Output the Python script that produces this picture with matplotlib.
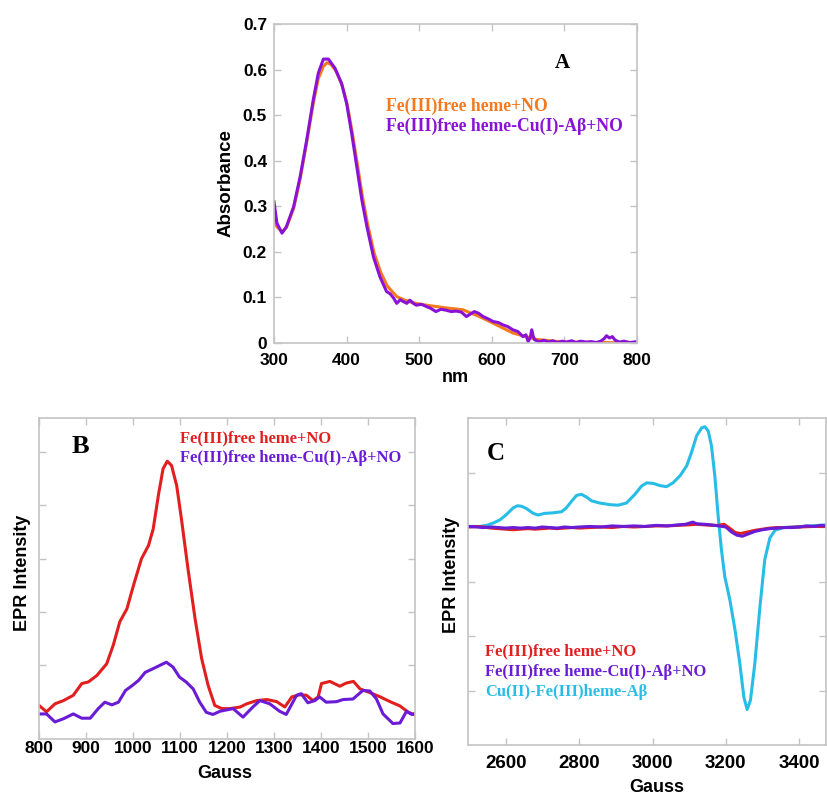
import matplotlib
matplotlib.use("Agg")
import matplotlib.pyplot as plt

# ---------------- Panel A data (UV-vis) ----------------
a_orange_nm = [300, 304, 311, 317, 327, 336, 345, 354, 361, 368, 373, 378, 385, 394, 401, 408,
               415, 422, 429, 438, 447, 456, 469, 480, 492, 510, 537, 560, 583, 600, 629, 661,
               698, 750, 800]
a_orange_abs = [0.27, 0.255, 0.244, 0.253, 0.295, 0.36, 0.44, 0.525, 0.58, 0.607, 0.615,
                0.612, 0.598, 0.565, 0.522, 0.46, 0.39, 0.32, 0.26, 0.197, 0.155, 0.125, 0.102,
                0.094, 0.088, 0.083, 0.077, 0.073, 0.058, 0.045, 0.022, 0.008, 0.002, 0.001, 0.0]

a_purple_nm = [300, 304, 311, 317, 327, 336, 345, 354, 361, 368, 375, 384, 393, 400, 407, 414,
               421, 428, 437, 446, 455, 460, 465, 469, 474, 478, 483, 487, 492, 496, 503, 510,
               516, 523, 530, 537, 544, 551, 558, 565, 571, 576, 582, 588, 595, 602, 609, 615,
               622, 629, 636, 643, 647, 650, 653, 655, 657, 659, 663, 666, 672, 678, 684, 690,
               697, 703, 710, 716, 722, 730, 737, 744, 750, 755, 758, 762, 766, 770, 776, 782,
               790, 800]
a_purple_abs = [0.31, 0.263, 0.241, 0.255, 0.299, 0.365, 0.445, 0.533, 0.592, 0.623, 0.623,
                0.603, 0.570, 0.526, 0.46, 0.387, 0.314, 0.255, 0.189, 0.145, 0.113, 0.108,
                0.098, 0.087, 0.095, 0.091, 0.087, 0.094, 0.087, 0.083, 0.085, 0.080, 0.076,
                0.069, 0.074, 0.072, 0.069, 0.070, 0.068, 0.058, 0.064, 0.069, 0.065, 0.058,
                0.053, 0.047, 0.045, 0.040, 0.036, 0.029, 0.025, 0.014, 0.018, 0.003, 0.012,
                0.029, 0.015, 0.007, 0.004, 0.003, 0.006, 0.002, 0.005, 0.001, 0.004, 0.002,
                0.005, 0.001, 0.004, 0.002, 0.003, 0.001, 0.004, 0.010, 0.016, 0.011, 0.014,
                0.006, 0.002, 0.004, 0.001, 0.003]

# ---------------- Panel B data (EPR, low field) ----------------
b_red_g = [800, 816, 834, 852, 873, 891, 905, 923, 944, 958, 972, 987, 1001, 1018, 1033, 1043,
           1054, 1064, 1073, 1082, 1093, 1103, 1117, 1132, 1146, 1160, 1174, 1189, 1206, 1228,
           1242, 1263, 1285, 1306, 1323, 1338, 1355, 1369, 1383, 1394, 1401, 1419, 1440, 1454,
           1469, 1483, 1504, 1526, 1547, 1568, 1586, 1600]
b_red_i = [-0.75, -0.87, -0.72, -0.66, -0.56, -0.34, -0.31, -0.19, 0.03, 0.38, 0.82, 1.06,
           1.50, 2.00, 2.25, 2.56, 3.19, 3.69, 3.83, 3.75, 3.37, 2.75, 1.81, 0.88, 0.13, -0.38,
           -0.75, -0.81, -0.81, -0.78, -0.72, -0.66, -0.64, -0.68, -0.78, -0.59, -0.55, -0.56,
           -0.66, -0.59, -0.34, -0.30, -0.39, -0.33, -0.30, -0.44, -0.51, -0.59, -0.68, -0.76,
           -0.88, -0.93]

b_purple_g = [800, 816, 834, 852, 873, 891, 909, 926, 940, 955, 969, 984, 998, 1012, 1026,
              1043, 1057, 1071, 1085, 1099, 1113, 1128, 1142, 1156, 1170, 1185, 1213, 1234,
              1255, 1270, 1291, 1312, 1326, 1348, 1358, 1372, 1387, 1397, 1411, 1433, 1447,
              1468, 1489, 1504, 1518, 1532, 1553, 1568, 1582, 1593, 1600]
b_purple_i = [-0.91, -0.91, -1.06, -1.00, -0.91, -0.99, -0.99, -0.81, -0.69, -0.74, -0.69,
              -0.47, -0.38, -0.28, -0.13, -0.06, 0.00, 0.06, -0.03, -0.22, -0.31, -0.44, -0.69,
              -0.88, -0.92, -0.86, -0.81, -0.97, -0.78, -0.66, -0.72, -0.86, -0.92, -0.56,
              -0.53, -0.70, -0.66, -0.59, -0.69, -0.68, -0.64, -0.63, -0.47, -0.48, -0.63,
              -0.91, -1.09, -1.08, -0.86, -0.92, -0.90]

# ---------------- Panel C data (EPR, g~2 region) ----------------
c_cyan_g = [2500, 2529, 2547, 2565, 2584, 2602, 2620, 2632, 2643, 2656, 2675, 2688, 2706, 2729,
            2752, 2765, 2779, 2793, 2806, 2820, 2834, 2856, 2884, 2906, 2929, 2952, 2970, 2984,
            3002, 3020, 3038, 3056, 3075, 3093, 3106, 3120, 3134, 3143, 3152, 3161, 3170, 3179,
            3188, 3197, 3211, 3225, 3238, 3249, 3258, 3267, 3279, 3293, 3306, 3320, 3334, 3356,
            3411, 3473]
c_cyan_i = [0.01, 0.01, 0.03, 0.07, 0.13, 0.23, 0.35, 0.39, 0.38, 0.34, 0.25, 0.22, 0.25, 0.26,
            0.28, 0.35, 0.47, 0.58, 0.60, 0.55, 0.48, 0.44, 0.41, 0.40, 0.44, 0.60, 0.75, 0.81,
            0.80, 0.76, 0.74, 0.81, 0.94, 1.12, 1.36, 1.67, 1.82, 1.84, 1.76, 1.48, 0.93, 0.20,
            -0.42, -0.91, -1.34, -1.89, -2.50, -3.12, -3.35, -3.18, -2.50, -1.46, -0.60, -0.20,
            -0.06, -0.01, 0.01, 0.04]

c_red_g = [2500, 2520, 2540, 2560, 2580, 2600, 2620, 2640, 2660, 2680, 2700, 2720, 2740,
           2760, 2780, 2800, 2830, 2860, 2890, 2920, 2950, 2980, 3010, 3040, 3070, 3100,
           3120, 3140, 3160, 3180, 3195, 3210, 3225, 3240, 3260, 3280, 3300, 3320, 3340,
           3360, 3400, 3440, 3473]
c_red_i = [0.0, 0.01, 0.0, -0.02, -0.03, -0.04, -0.05, -0.04, -0.03, -0.04, -0.03, -0.02,
           -0.03, -0.02, -0.01, -0.02, -0.01, 0.0, -0.01, 0.01, 0.0, 0.01, 0.02, 0.02, 0.03,
           0.04, 0.05, 0.04, 0.03, 0.03, 0.05, -0.02, -0.10, -0.12, -0.09, -0.06, -0.04,
           -0.02, -0.01, -0.01, 0.0, 0.01, 0.01]

c_purple_g = [2500, 2520, 2540, 2560, 2580, 2600, 2620, 2640, 2660, 2680, 2700, 2720, 2740,
              2760, 2780, 2800, 2830, 2860, 2890, 2920, 2950, 2980, 3010, 3040, 3070, 3090,
              3100, 3110, 3120, 3140, 3160, 3180, 3200, 3215, 3230, 3245, 3260, 3280, 3300,
              3320, 3340, 3360, 3380, 3400, 3420, 3440, 3460, 3473]
c_purple_i = [0.01, 0.0, -0.01, 0.0, -0.01, -0.02, -0.01, -0.02, -0.01, -0.02, 0.0, -0.01,
              -0.02, 0.0, -0.01, 0.0, 0.01, 0.0, 0.02, 0.01, 0.02, 0.01, 0.03, 0.02, 0.04,
              0.05, 0.07, 0.09, 0.06, 0.05, 0.04, 0.02, 0.0, -0.09, -0.15, -0.17, -0.13,
              -0.08, -0.05, -0.03, -0.02, -0.01, -0.01, 0.0, 0.02, 0.01, 0.03, 0.02]

# ---------------- Text ----------------
a_labels = ["Fe(III)free heme+NO", "Fe(III)free heme-Cu(I)-Aβ+NO"]
b_labels = ["Fe(III)free heme+NO", "Fe(III)free heme-Cu(I)-Aβ+NO"]
c_labels = ["Fe(III)free heme+NO", "Fe(III)free heme-Cu(I)-Aβ+NO", "Cu(II)-Fe(III)heme-Aβ"]

ORANGE = "#F57A1E"
PURPLE_A = "#8A12D6"
RED = "#E21F1F"
PURPLE = "#6A1BD6"
CYAN = "#28BDE6"
SPINE = "#c4c4c4"
LW = 2.2

W, H = 827, 794
fig = plt.figure(figsize=(W / 100, H / 100), dpi=100)

SANS = "Liberation Sans"
SERIF = "Liberation Serif"


def px_axes(l, r, t, b):
    return fig.add_axes([l / W, 1 - b / H, (r - l) / W, (b - t) / H])


def style(ax, size, xpad):
    for s in ax.spines.values():
        s.set_color(SPINE)
        s.set_linewidth(1.2)
    ax.tick_params(direction="in", top=True, right=True, length=5, width=1,
                   color=SPINE, labelsize=size)
    ax.tick_params(axis="x", pad=xpad)
    ax.tick_params(axis="y", pad=5)
    for lab in ax.get_xticklabels() + ax.get_yticklabels():
        lab.set_fontfamily(SANS)
        lab.set_fontweight("bold")


def flabel(x, y, s, rot=0, size=13):
    fig.text(x / W, 1 - y / H, s, rotation=rot, fontfamily=SANS, fontweight="bold",
             fontsize=size, ha="center", va="center")


# ---- Panel A ----
axA = px_axes(274, 637, 24, 343)
axA.plot(a_orange_nm, a_orange_abs, color=ORANGE, lw=LW)
axA.plot(a_purple_nm, a_purple_abs, color=PURPLE_A, lw=LW)
axA.set_xlim(300, 800)
axA.set_ylim(0, 0.7)
axA.set_xticks([300, 400, 500, 600, 700, 800])
axA.set_yticks([0, 0.1, 0.2, 0.3, 0.4, 0.5, 0.6, 0.7])
axA.set_yticklabels(["0", "0.1", "0.2", "0.3", "0.4", "0.5", "0.6", "0.7"])
style(axA, 12.5, 7.5)
flabel(455, 378, "nm")
flabel(226, 183, "Absorbance", rot=90, size=13.5)
fig.text(562 / W, 1 - 63 / H, "A", fontfamily=SERIF, fontweight="bold", fontsize=15,
         ha="center", va="center")
for i, (lab, col) in enumerate(zip(a_labels, [ORANGE, PURPLE_A])):
    fig.text(386 / W, 1 - (106 + 20 * i) / H, lab, color=col, fontfamily=SERIF,
             fontweight="bold", fontsize=12.7, ha="left", va="center")

# ---- Panel B ----
axB = px_axes(39, 415, 418, 739)
axB.plot(b_red_g, b_red_i, color=RED, lw=LW)
axB.plot(b_purple_g, b_purple_i, color=PURPLE, lw=LW)
axB.set_xlim(800, 1600)
axB.set_ylim(-1.38, 4.64)
axB.set_xticks(list(range(800, 1601, 100)))
axB.set_yticks([0, 1, 2, 3, 4])
axB.set_yticklabels([])
style(axB, 12.5, 1.5)
flabel(225, 773, "Gauss")
flabel(23, 573, "EPR Intensity", rot=90)
fig.text(80 / W, 1 - 446 / H, "B", fontfamily=SERIF, fontweight="bold", fontsize=19,
         ha="center", va="center")
for i, (lab, col) in enumerate(zip(b_labels, [RED, PURPLE])):
    fig.text(180 / W, 1 - (438 + 20 * i) / H, lab, color=col, fontfamily=SERIF,
             fontweight="bold", fontsize=11.9, ha="left", va="center")

# ---- Panel C ----
axC = px_axes(468, 826, 418, 745)
axC.plot(c_cyan_g, c_cyan_i, color=CYAN, lw=LW)
axC.plot(c_red_g, c_red_i, color=RED, lw=LW)
axC.plot(c_purple_g, c_purple_i, color=PURPLE, lw=LW)
axC.set_xlim(2497, 3473)
axC.set_ylim(-4, 2)
axC.set_xticks([2600, 2800, 3000, 3200, 3400])
axC.set_yticks([-3, -2, -1, 0, 1])
axC.set_yticklabels([])
style(axC, 13.5, 7.5)
flabel(657, 787, "Gauss")
flabel(452, 575, "EPR Intensity", rot=90)
fig.text(496 / W, 1 - 453 / H, "C", fontfamily=SERIF, fontweight="bold", fontsize=18,
         ha="center", va="center")
for i, (lab, col) in enumerate(zip(c_labels, [RED, PURPLE, CYAN])):
    fig.text(485 / W, 1 - (651 + 20.5 * i) / H, lab, color=col, fontfamily=SERIF,
             fontweight="bold", fontsize=11.9, ha="left", va="center")

fig.savefig("out.png", dpi=100)
